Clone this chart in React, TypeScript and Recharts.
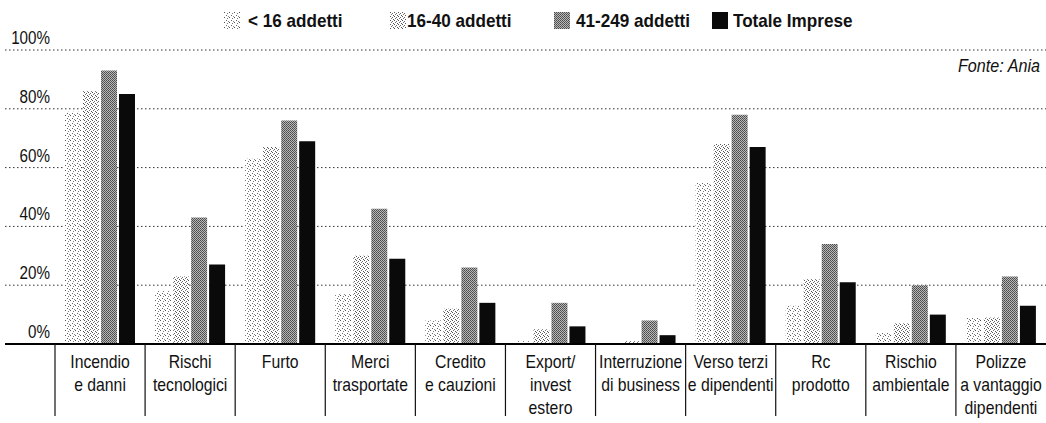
import { Bar, BarChart, CartesianGrid, XAxis, YAxis } from 'recharts'

const categories = [
  'Incendio\ne danni',
  'Rischi\ntecnologici',
  'Furto',
  'Merci\ntrasportate',
  'Credito\ne cauzioni',
  'Export/\ninvest\nestero',
  'Interruzione\ndi business',
  'Verso terzi\ne dipendenti',
  'Rc\nprodotto',
  'Rischio\nambientale',
  'Polizze\na vantaggio\ndipendenti',
]

const under16 = [79, 18, 63, 17, 8, 1, 0.5, 55, 13, 4, 9]
const from16to40 = [86, 23, 67, 30, 12, 5, 1, 68, 22, 7, 9]
const from41to249 = [93, 43, 76, 46, 26, 14, 8, 78, 34, 20, 23]
const totale = [85, 27, 69, 29, 14, 6, 3, 67, 21, 10, 13]

const seriesNames = ['< 16 addetti', '16-40 addetti', '41-249 addetti', 'Totale Imprese']
const yTicks = [0, 20, 40, 60, 80, 100]

const W = 1046
const H = 423
const Y_AXIS_W = 55
const BAND = (W - Y_AXIS_W) / categories.length
// the reference uses a condensed Helvetica; squeeze Liberation Sans instead
const FONT = "'Liberation Sans', Arial, sans-serif"

const data = categories.map((name, i) => ({
  name,
  under16: under16[i],
  from16to40: from16to40[i],
  from41to249: from41to249[i],
  totale: totale[i],
}))

const keys = ['under16', 'from16to40', 'from41to249', 'totale']
const fills = ['url(#pLight)', 'url(#pMedium)', 'url(#pDark)', '#0a0a0a']

// legend placement
const legendSwatchX = [224, 390, 554, 712]
const legendTextX = [248, 407, 576, 733]

function PctTick({ y, payload }: any) {
  const v = payload.value
  return (
    <g>
      <text
        transform={`translate(50, ${y - 6}) scale(0.8, 1)`}
        textAnchor="end"
        fontSize={19}
        fill="#111"
        fontFamily={FONT}
      >
        {v}%
      </text>
      {v === 0 && <line x1={5} x2={W} y1={y} y2={y} stroke="#000" strokeWidth={2} />}
    </g>
  )
}

function CategoryTick({ x, y, payload }: any) {
  const lines = String(payload.value).split('\n')
  const left = x - BAND / 2
  return (
    <g>
      <line x1={left} x2={left} y1={y} y2={y + 72} stroke="#111" strokeWidth={1.2} />
      <text
        transform={`translate(${x}, ${y}) scale(0.83, 1)`}
        textAnchor="middle"
        fontSize={19}
        fill="#111"
        fontFamily={FONT}
      >
        {lines.map((l, i) => (
          <tspan key={i} x={0} y={24 + i * 23}>
            {l}
          </tspan>
        ))}
      </text>
    </g>
  )
}

function Patterns() {
  return (
    <defs>
      <pattern id="pLight" width="5" height="5" patternUnits="userSpaceOnUse">
        <rect width="5" height="5" fill="#fff" />
        <rect x="0" y="0" width="1" height="1" fill="#555" />
        <rect x="3" y="1" width="1" height="1" fill="#777" />
        <rect x="2" y="3" width="1" height="1" fill="#666" />
        <rect x="4" y="4" width="1" height="1" fill="#888" />
      </pattern>
      <pattern id="pMedium" width="4" height="4" patternUnits="userSpaceOnUse">
        <rect width="4" height="4" fill="#fff" />
        <rect x="0" y="0" width="1" height="1" fill="#555" />
        <rect x="2" y="1" width="1" height="1" fill="#666" />
        <rect x="1" y="2" width="1" height="1" fill="#777" />
        <rect x="3" y="3" width="1" height="1" fill="#555" />
      </pattern>
      <pattern id="pDark" width="2" height="2" patternUnits="userSpaceOnUse">
        <rect width="2" height="2" fill="#b8b8b8" />
        <rect x="0" y="0" width="1" height="1" fill="#4a4a4a" />
        <rect x="1" y="1" width="1" height="1" fill="#5a5a5a" />
      </pattern>
    </defs>
  )
}

export default function App() {
  return (
    <div
      style={{
        position: 'absolute',
        left: 0,
        top: 0,
        width: W,
        height: H,
        overflow: 'hidden',
        background: '#fff',
        fontFamily: FONT,
      }}
    >
      <BarChart
        width={W}
        height={H}
        data={data}
        margin={{ top: 50, right: 0, left: 0, bottom: 0 }}
        barCategoryGap={10}
        barGap={2}
      >
        <Patterns />
        <CartesianGrid
          x={5}
          width={W - 5}
          vertical={false}
          stroke="#333"
          strokeDasharray="1.5 2.5"
        />
        <YAxis
          domain={[0, 100]}
          ticks={yTicks}
          width={Y_AXIS_W}
          axisLine={false}
          tickLine={false}
          tick={<PctTick />}
        />
        <XAxis
          dataKey="name"
          height={79}
          interval={0}
          axisLine={false}
          tickLine={false}
          tickSize={0}
          tickMargin={0}
          tick={<CategoryTick />}
        />
        {keys.map((k, i) => (
          <Bar key={k} dataKey={k} name={seriesNames[i]} fill={fills[i]} isAnimationActive={false} />
        ))}
      </BarChart>

      {seriesNames.map((s, i) => (
        <div key={s}>
          <svg
            width={16}
            height={17}
            style={{ position: 'absolute', left: legendSwatchX[i], top: 12 }}
          >
            <rect width={16} height={17} fill={fills[i]} />
          </svg>
          <div
            style={{
              position: 'absolute',
              left: legendTextX[i],
              top: 10,
              fontSize: 19,
              fontWeight: 700,
              color: '#111',
              whiteSpace: 'nowrap',
              transform: 'scaleX(0.9)',
              transformOrigin: 'left center',
            }}
          >
            {s}
          </div>
        </div>
      ))}

      <div
        style={{
          position: 'absolute',
          left: 958,
          top: 55,
          fontSize: 19,
          fontStyle: 'italic',
          color: '#111',
          whiteSpace: 'nowrap',
          transform: 'scaleX(0.85)',
          transformOrigin: 'left center',
        }}
      >
        Fonte: Ania
      </div>
    </div>
  )
}
